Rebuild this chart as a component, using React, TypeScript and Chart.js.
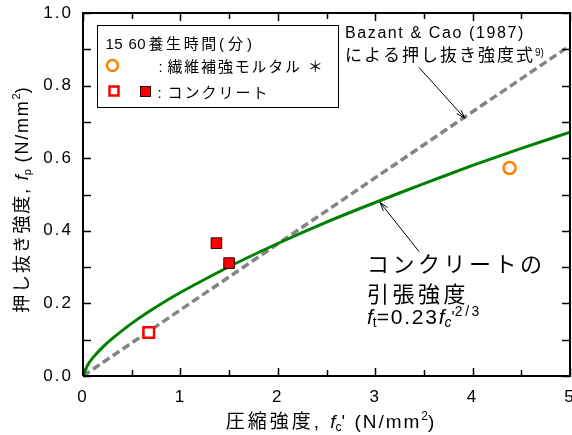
import { useEffect, useRef } from "react";
import { Chart, registerables } from "chart.js";

Chart.register(...registerables);

const FONT = "'Liberation Sans', 'Noto Sans CJK JP', sans-serif";

// Tensile strength of concrete, ft = 0.23 fc'^(2/3)
const curveFc = [0, 0.05, 0.1, 0.2, 0.3, 0.5, 0.75, 1, 1.5, 2, 2.5, 3, 3.5, 4, 4.5, 5];
const curveFt = [0, 0.031, 0.05, 0.079, 0.103, 0.145, 0.19, 0.23, 0.301, 0.365, 0.424, 0.478, 0.53, 0.58, 0.627, 0.672];

// Bazant & Cao (1987) punching strength
const bazantFc = [0, 5];
const bazantFp = [0, 0.91];

// Measured punching strength
const mortar15Fc = [4.38];
const mortar15Fp = [0.573];
const concrete15Fc = [0.675];
const concrete15Fp = [0.12];
const concrete60Fc = [1.37, 1.5];
const concrete60Fp = [0.366, 0.311];

const xMin = 0;
const xMax = 5;
const xStep = 1;
const yMin = 0;
const yMax = 1;
const yStep = 0.2;

const zip = (xs: number[], ys: number[]) => xs.map((x, i) => ({ x, y: ys[i] }));

type Run = { t: string; size: number; italic?: boolean; dy?: number; ls?: number };

function drawRich(ctx: CanvasRenderingContext2D, runs: Run[], x: number, y: number, align: "left" | "center") {
  ctx.save();
  ctx.textAlign = "left";
  ctx.textBaseline = "alphabetic";
  ctx.fillStyle = "#000";
  const widths = runs.map((r) => {
    ctx.font = `${r.italic ? "italic " : ""}${r.size}px ${FONT}`;
    (ctx as any).letterSpacing = `${r.ls ?? 0}px`;
    return ctx.measureText(r.t).width;
  });
  const total = widths.reduce((a, b) => a + b, 0);
  let cx = align === "center" ? x - total / 2 : x;
  runs.forEach((r, i) => {
    ctx.font = `${r.italic ? "italic " : ""}${r.size}px ${FONT}`;
    (ctx as any).letterSpacing = `${r.ls ?? 0}px`;
    ctx.fillText(r.t, cx, y + (r.dy ?? 0));
    cx += widths[i];
  });
  ctx.restore();
}

function arrow(ctx: CanvasRenderingContext2D, x0: number, y0: number, x1: number, y1: number) {
  const a = Math.atan2(y1 - y0, x1 - x0);
  const h = 9;
  const s = 0.3;
  ctx.save();
  ctx.strokeStyle = "#000";
  ctx.lineWidth = 1;
  ctx.beginPath();
  ctx.moveTo(x0, y0);
  ctx.lineTo(x1, y1);
  ctx.moveTo(x1 - h * Math.cos(a - s), y1 - h * Math.sin(a - s));
  ctx.lineTo(x1, y1);
  ctx.lineTo(x1 - h * Math.cos(a + s), y1 - h * Math.sin(a + s));
  ctx.stroke();
  ctx.restore();
}

// letter spacing for tick labels
const spacingPlugin = {
  id: "tickSpacing",
  beforeDraw(chart: Chart) {
    (chart.ctx as any).letterSpacing = "2px";
  },
  beforeDatasetsDraw(chart: Chart) {
    (chart.ctx as any).letterSpacing = "0px";
  },
};

// frame, inward ticks, axis titles, key and notes
const decorPlugin = {
  id: "decor",
  afterDraw(chart: Chart) {
    const ctx = chart.ctx;
    const ca = chart.chartArea;
    const xs = chart.scales.x;
    const ys = chart.scales.y;
    ctx.save();
    ctx.strokeStyle = "#000";
    ctx.lineWidth = 2;
    ctx.beginPath();
    ctx.moveTo(ca.left, ca.bottom);
    ctx.lineTo(ca.left, ca.top);
    ctx.lineTo(ca.right, ca.top);
    ctx.lineTo(ca.right, ca.bottom);
    ctx.lineTo(ca.left, ca.bottom);
    ctx.stroke();

    ctx.lineWidth = 1.5;
    ctx.beginPath();
    for (let i = 0; i <= 10; i++) {
      const v = xMin + (i * (xMax - xMin)) / 10;
      const px = Math.round(xs.getPixelForValue(v)) + 0.5;
      const len = i % 2 === 0 ? 8 : 6;
      ctx.moveTo(px, ca.bottom);
      ctx.lineTo(px, ca.bottom - len);
      ctx.moveTo(px, ca.top);
      ctx.lineTo(px, ca.top + len);
    }
    for (let i = 0; i <= 10; i++) {
      const v = yMin + (i * (yMax - yMin)) / 10;
      const py = Math.round(ys.getPixelForValue(v)) + 0.5;
      const len = 8;
      ctx.moveTo(ca.left, py);
      ctx.lineTo(ca.left + len, py);
      ctx.moveTo(ca.right, py);
      ctx.lineTo(ca.right - len, py);
    }
    ctx.stroke();
    ctx.restore();

    // axis titles
    drawRich(
      ctx,
      [
        { t: "圧縮強度, ", size: 19, ls: 3 },
        { t: "f", size: 19, italic: true },
        { t: "c", size: 12, dy: 3 },
        { t: "' (N/mm", size: 19, ls: 2 },
        { t: "2", size: 12, dy: -8 },
        { t: ")", size: 19 },
      ],
      330,
      428,
      "center"
    );
    ctx.save();
    ctx.translate(21, 200);
    ctx.rotate(-Math.PI / 2);
    drawRich(
      ctx,
      [
        { t: "押し抜き強度, ", size: 18, ls: 1.8 },
        { t: "f", size: 18, italic: true },
        { t: "p", size: 11, dy: 3 },
        { t: " (N/mm", size: 18, ls: 1.8 },
        { t: "2", size: 11, dy: -8 },
        { t: ")", size: 18 },
      ],
      0,
      7,
      "center"
    );
    ctx.restore();

    // key
    const bx = ca.left + 14.5;
    const by = ca.top + 12.5;
    ctx.save();
    ctx.fillStyle = "#fff";
    ctx.fillRect(bx, by, 241, 82);
    ctx.strokeStyle = "#000";
    ctx.lineWidth = 1;
    ctx.strokeRect(bx, by, 241, 82);
    ctx.restore();
    drawRich(ctx, [{ t: "15", size: 15, ls: 0.5 }], bx + 8, by + 23, "left");
    drawRich(ctx, [{ t: "60", size: 15, ls: 0.5 }], bx + 31, by + 23, "left");
    drawRich(
      ctx,
      [
        { t: "養生時間", size: 15, ls: 2.6 },
        { t: "(", size: 15, ls: 4 },
        { t: "分", size: 15, ls: 4 },
        { t: ")", size: 15 },
      ],
      bx + 51,
      by + 23,
      "left"
    );
    ctx.save();
    ctx.strokeStyle = "#ff8000";
    ctx.lineWidth = 2.5;
    ctx.beginPath();
    ctx.arc(bx + 15, by + 40, 5.5, 0, Math.PI * 2);
    ctx.stroke();
    ctx.strokeStyle = "#ff0000";
    ctx.strokeRect(bx + 12, by + 61, 9, 9);
    ctx.fillStyle = "#ff0000";
    ctx.fillRect(bx + 43, by + 61, 10, 10);
    ctx.strokeStyle = "#300";
    ctx.lineWidth = 1;
    ctx.strokeRect(bx + 43, by + 61, 10, 10);
    ctx.restore();
    drawRich(ctx, [{ t: ":", size: 15 }], bx + 61, by + 46, "left");
    drawRich(ctx, [{ t: "繊維補強モルタル ＊", size: 15, ls: 1.8 }], bx + 70, by + 46, "left");
    drawRich(ctx, [{ t: ":", size: 15 }], bx + 60, by + 72, "left");
    drawRich(ctx, [{ t: "コンクリート", size: 15, ls: 2 }], bx + 70, by + 72, "left");

    // notes
    const P = (fc: number, fp: number): [number, number] => [xs.getPixelForValue(fc), ys.getPixelForValue(fp)];
    const [n1x, n1y] = P(2.69, 0.93);
    drawRich(ctx, [{ t: "Bazant & Cao (1987)", size: 16, ls: 1.6 }], n1x, n1y, "left");
    const [n2x, n2y] = P(2.69, 0.868);
    drawRich(
      ctx,
      [
        { t: "による押し抜き強度式", size: 17, ls: 2 },
        { t: "9)", size: 10, dy: -5 },
      ],
      n2x,
      n2y,
      "left"
    );
    const [a1x0, a1y0] = P(3.45, 0.85);
    const [a1x1, a1y1] = P(3.92, 0.71);
    arrow(ctx, a1x0, a1y0, a1x1, a1y1);

    const [c1x, c1y] = P(2.915, 0.287);
    drawRich(ctx, [{ t: "コンクリートの", size: 22, ls: 3.5 }], c1x, c1y, "left");
    const [c2x, c2y] = P(2.915, 0.204);
    drawRich(ctx, [{ t: "引張強度", size: 22, ls: 3.5 }], c2x, c2y, "left");
    const [c3x, c3y] = P(2.915, 0.143);
    drawRich(
      ctx,
      [
        { t: "f", size: 21, italic: true },
        { t: "t", size: 14, dy: 3 },
        { t: "=0.23", size: 21, ls: 1.8 },
        { t: "f", size: 21, italic: true },
        { t: "c", size: 14, italic: true, dy: 3 },
        { t: "'", size: 17, dy: -1 },
        { t: "2/3", size: 14, ls: 2.5, dy: -8 },
      ],
      c3x,
      c3y,
      "left"
    );
    const [a2x0, a2y0] = P(3.45, 0.343);
    const [a2x1, a2y1] = P(3.05, 0.478);
    arrow(ctx, a2x0, a2y0, a2x1, a2y1);
  },
};

const noEdgePadding = (s: any) => {
  s.paddingLeft = 0;
  s.paddingRight = 0;
  s.paddingTop = 0;
  s.paddingBottom = 0;
};

export default function App() {
  const ref = useRef<HTMLCanvasElement | null>(null);

  useEffect(() => {
    if (!ref.current) return;
    const tickFont = { family: FONT, size: 17 };
    const chart = new Chart(ref.current, {
      type: "scatter",
      data: {
        datasets: [
          {
            label: "繊維補強モルタル 15",
            data: zip(mortar15Fc, mortar15Fp),
            pointStyle: "circle",
            pointRadius: 6,
            borderWidth: 2.5,
            borderColor: "#ff8000",
            backgroundColor: "#ffffff",
            order: 0,
          },
          {
            label: "コンクリート 15",
            data: zip(concrete15Fc, concrete15Fp),
            pointStyle: "rect",
            pointRadius: 7.5,
            borderWidth: 2.5,
            borderColor: "#ff0000",
            backgroundColor: "#ffffff",
            order: 0,
          },
          {
            label: "コンクリート 60",
            data: zip(concrete60Fc, concrete60Fp),
            pointStyle: "rect",
            pointRadius: 7.5,
            borderWidth: 1,
            borderColor: "#300000",
            backgroundColor: "#ff0000",
            order: 0,
          },
          {
            label: "引張強度",
            type: "line",
            data: zip(curveFc, curveFt),
            borderColor: "#008000",
            borderWidth: 3,
            pointRadius: 0,
            tension: 0.2,
            order: 1,
          },
          {
            label: "Bazant & Cao",
            type: "line",
            data: zip(bazantFc, bazantFp),
            borderColor: "#848484",
            borderWidth: 3.5,
            borderDash: [8, 4],
            pointRadius: 0,
            order: 2,
          },
        ],
      },
      options: {
        animation: false,
        responsive: false,
        maintainAspectRatio: false,
        layout: { autoPadding: false, padding: { top: 13, right: 2, left: 0, bottom: 0 } },
        plugins: { legend: { display: false }, tooltip: { enabled: false } },
        scales: {
          x: {
            type: "linear",
            min: xMin,
            max: xMax,
            afterFit: (s: any) => {
              s.height = 59;
              noEdgePadding(s);
            },
            grid: { display: false, drawTicks: false },
            border: { display: false },
            ticks: {
              stepSize: xStep,
              padding: 11,
              color: "#000",
              font: tickFont,
              callback: (v: any) => String(v),
            },
          },
          y: {
            type: "linear",
            min: yMin,
            max: yMax,
            afterFit: (s: any) => {
              s.width = 83;
              noEdgePadding(s);
            },
            grid: { display: false, drawTicks: false },
            border: { display: false },
            ticks: {
              stepSize: yStep,
              padding: 10,
              color: "#000",
              font: tickFont,
              callback: (v: any) => Number(v).toFixed(1),
            },
          },
        },
      },
      plugins: [spacingPlugin, decorPlugin],
    });
    return () => chart.destroy();
  }, []);

  return (
    <div style={{ position: "fixed", left: 0, top: 0, width: 572, height: 435, background: "#fff" }}>
      <canvas ref={ref} width={572} height={435} style={{ display: "block" }} />
    </div>
  );
}
